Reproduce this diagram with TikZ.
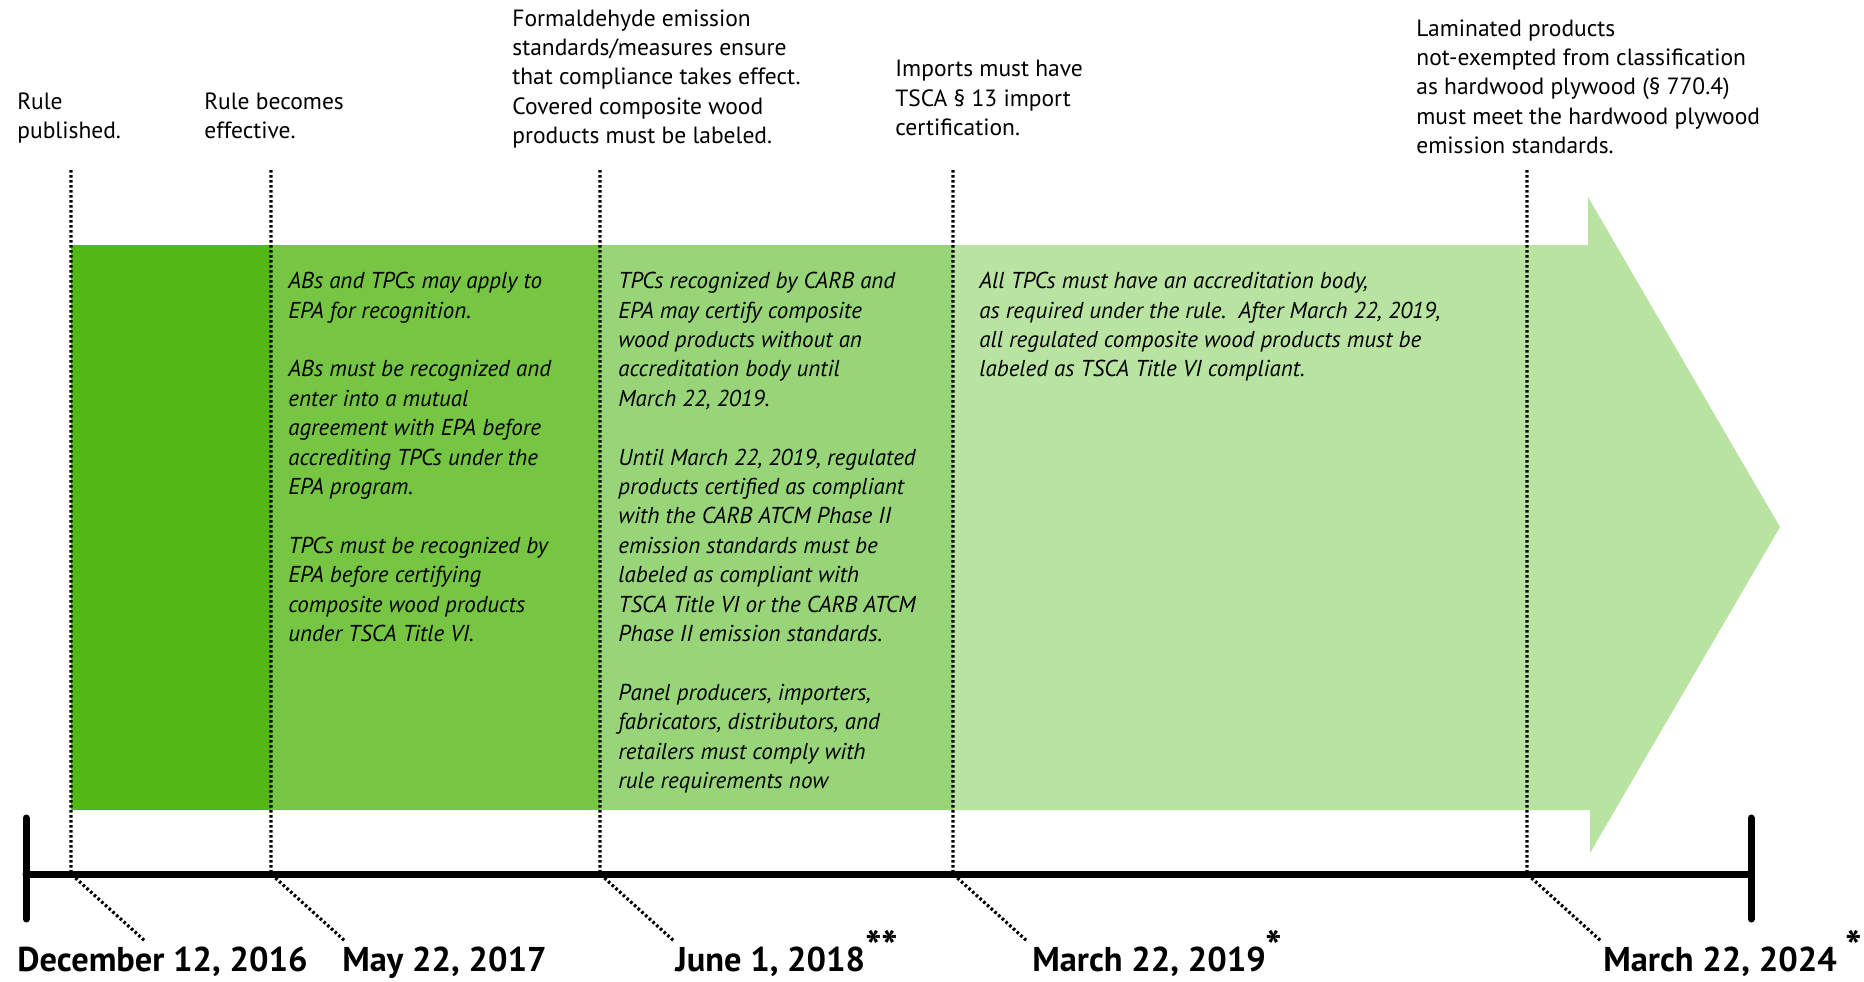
\documentclass[tikz,border=0pt]{standalone}
\usepackage{fontspec}
\setmainfont{PT Sans}
\usetikzlibrary{positioning}
\usetikzlibrary{shapes, arrows}

\definecolor{phaseA}{HTML}{52B814}
\definecolor{phaseB}{HTML}{76C643}
\definecolor{phaseC}{HTML}{98D578}
\definecolor{phaseD}{HTML}{B9E3A0}
\newcommand{\starmark}[1]{\raisebox{0.25em}{\fontsize{22}{22}\selectfont #1}}

\begin{document}
\begin{tikzpicture}[x=0.5pt, y=-0.5pt]
    \tikzstyle{event} = [anchor=north west, inner sep=0pt, align=left,
    font=\fontsize{11.75}{14.7}\selectfont]
    \tikzstyle{rules} = [event, font=\fontsize{11.5}{14.7}\selectfont\itshape]
    \tikzstyle{date} = [anchor=base west, inner sep=0pt,
    font=\bfseries\fontsize{17.2}{18}\selectfont]
    \tikzstyle{tick} = [draw, line width=1.6pt, dash pattern=on 1.3pt off 1.2pt]
    \tikzstyle{axis} = [draw, line width=3.5pt, line cap=round]
    \useasboundingbox (0,0) rectangle (1864,981);
    \fill [phaseD] (71,245) -- (1588,245) -- (1588,197) -- (1780,527)
    -- (1590,853) -- (1590,810) -- (71,810) -- cycle;
    \fill [phaseA] (71,245) rectangle (271,810);
    \fill [phaseB] (271,245) rectangle (600,810);
    \fill [phaseC] (600,245) rectangle (953,810);
    \coordinate (start) at (26,874);
    \coordinate (end) at (1751,874);
    \coordinate (start top) at (26,818);
    \coordinate (start bottom) at (26,919);
    \coordinate (end top) at (1751,818);
    \coordinate (end bottom) at (1751,919);
    \coordinate (top1) at (71,170);
    \coordinate (top2) at (271,170);
    \coordinate (top3) at (600,170);
    \coordinate (top4) at (953,170);
    \coordinate (top5) at (1527,170);
    \coordinate (tick1) at (71,874);
    \coordinate (tick2) at (271,874);
    \coordinate (tick3) at (600,874);
    \coordinate (tick4) at (953,874);
    \coordinate (tick5) at (1527,874);
    \path [axis] (start) -- (end);
    \path [axis] (start top) -- (start bottom);
    \path [axis] (end top) -- (end bottom);
    \node [event] (published) at (17,92) {Rule\\published.};
    \node [event] (effective) at (204,92) {Rule becomes\\effective.};
    \node [event] (labeled) at (512,9) {Formaldehyde emission\\
    standards/measures ensure\\that compliance takes effect.\\
    Covered composite wood\\products must be labeled.};
    \node [event] (imports) at (895,60) {Imports must have\\
    TSCA \S{} 13 import\\certification.};
    \node [event] (laminated) at (1416,19) {Laminated products\\
    not-exempted from classification\\as hardwood plywood (\S{} 770.4)\\
    must meet the hardwood plywood\\emission standards.};
    \node [rules] (recognition) at (288,272) {ABs and TPCs may apply to\\
    EPA for recognition.\\[14.7pt]
    ABs must be recognized and\\enter into a mutual\\
    agreement with EPA before\\accrediting TPCs under the\\
    EPA program.\\[14.7pt]
    TPCs must be recognized by\\EPA before certifying\\
    composite wood products\\under TSCA Title VI.};
    \node [rules] (compliance) at (618,272) {TPCs recognized by CARB and\\
    EPA may certify composite\\wood products without an\\
    accreditation body until\\March 22, 2019.\\[14.7pt]
    Until March 22, 2019, regulated\\products certified as compliant\\
    with the CARB ATCM Phase II\\emission standards must be\\
    labeled as compliant with\\TSCA Title VI or the CARB ATCM\\
    Phase II emission standards.\\[14.7pt]
    Panel producers, importers,\\fabricators, distributors, and\\
    retailers must comply with\\rule requirements now};
    \node [rules] (accreditation) at (979,272) {All TPCs must have an
    accreditation body,\\as required under the rule.\ \ After March 22, 2019,\\
    all regulated composite wood products must be\\
    labeled as TSCA Title VI compliant.};
    \node [date] (dec16) at (17,971) {December 12, 2016};
    \node [date] (may17) at (342,971) {May 22, 2017};
    \node [date] (jun18) at (675,971) {June 1, 2018\starmark{**}};
    \node [date] (mar19) at (1032,971) {March 22, 2019\starmark{*}};
    \node [date] (mar24) at (1603,971) {March 22, 2024 \starmark{*}};
    \path [tick] (top1) -- (tick1) -- ++(74,67);
    \path [tick] (top2) -- (tick2) -- ++(74,67);
    \path [tick] (top3) -- (tick3) -- ++(74,67);
    \path [tick] (top4) -- (tick4) -- ++(74,67);
    \path [tick] (top5) -- (tick5) -- ++(74,67);
\end{tikzpicture}
\end{document}
